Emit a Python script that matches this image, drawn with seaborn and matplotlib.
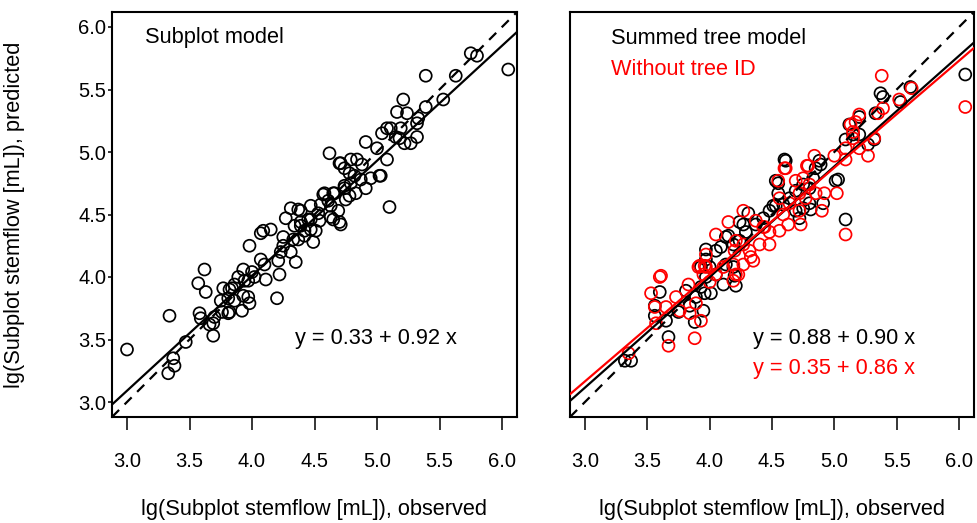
import matplotlib
matplotlib.use("Agg")
import matplotlib.pyplot as plt
import seaborn as sns
import pandas as pd

# ---------------- data ----------------
# Left panel: subplot model (observed, predicted)
sub_obs = [3.00, 3.34, 3.37, 3.38, 3.33, 3.47, 3.58, 3.59, 3.66, 3.69, 3.69, 3.57, 3.62, 3.63,
           3.75, 3.81, 3.76, 3.82, 3.92, 3.97, 3.98, 3.84, 3.77, 3.82, 3.86, 3.93, 3.81, 3.70,
           3.86, 3.89, 3.94, 4.02, 3.93, 4.00, 3.97, 4.11, 4.22, 4.20,
           3.98, 4.07, 4.09, 4.15,
           4.07, 4.10, 4.21, 4.23, 4.25, 4.25, 4.31, 4.33, 4.35,
           4.31, 4.27, 4.39, 4.39, 4.42, 4.49, 4.51, 4.47, 4.54, 4.63, 4.70, 4.57, 4.65, 4.74, 4.55, 4.61,
           4.34, 4.37, 4.45, 4.47, 4.53, 4.42, 4.37, 4.47, 4.39,
           4.58, 4.63, 4.69, 4.65, 4.71, 4.78, 4.83, 4.75, 4.66,
           4.71, 4.79, 4.84, 4.88, 4.74, 4.78, 4.82, 4.87, 4.95, 5.02, 4.91, 4.79, 4.74,
           4.62, 4.70, 4.91, 5.00, 5.10, 5.08, 5.03,
           5.04, 5.11, 5.15, 5.19, 5.22, 5.27, 5.32, 5.32, 5.33, 5.39, 5.16, 5.24, 5.21, 5.08, 5.18,
           5.39, 5.53, 5.63, 5.75, 5.80, 6.05]
sub_pred = [3.42, 3.69, 3.35, 3.29, 3.23, 3.48, 3.71, 3.67, 3.62, 3.63, 3.53, 3.95, 4.06, 3.88,
            3.81, 3.83, 3.72, 3.72, 3.73, 3.84, 3.79, 3.91, 3.91, 3.90, 3.81, 3.85, 3.71, 3.68,
            3.94, 4.00, 3.97, 4.00, 4.06, 4.04, 3.97, 3.98, 4.02, 3.83,
            4.25, 4.35, 4.37, 4.38,
            4.14, 4.10, 4.13, 4.20, 4.25, 4.32, 4.20, 4.30, 4.12,
            4.55, 4.47, 4.53, 4.41, 4.37, 4.28, 4.37, 4.46, 4.45, 4.48, 4.44, 4.66, 4.67, 4.71, 4.58, 4.61,
            4.41, 4.54, 4.46, 4.57, 4.51, 4.33, 4.30, 4.38, 4.44,
            4.67, 4.57, 4.53, 4.46, 4.42, 4.65, 4.67, 4.62, 4.67,
            4.91, 4.94, 4.94, 4.90, 4.87, 4.83, 4.81, 4.78, 4.79, 4.81, 4.71, 4.75, 4.73,
            4.99, 4.91, 5.08, 5.03, 4.56, 4.94, 4.81,
            5.15, 5.19, 5.12, 5.19, 5.07, 5.07, 5.12, 5.23, 5.27, 5.36, 5.32, 5.31, 5.42, 5.19, 5.11,
            5.61, 5.42, 5.61, 5.79, 5.77, 5.66]

# Right panel: summed tree model (black)
sum_obs = [6.05, 5.61, 5.53, 5.37, 5.39, 5.33, 5.20, 5.12, 5.15, 5.20, 5.09, 5.27, 5.32,
           5.03, 5.09, 4.91, 4.89, 4.61, 4.55, 4.55, 4.51, 4.31, 4.27, 4.29,
           4.13, 4.09, 4.05, 3.97, 3.97, 3.93, 3.97, 3.93, 3.96, 4.11, 4.21, 4.20,
           3.60, 3.56, 3.56, 3.65, 3.67, 3.32, 3.37, 3.75, 3.84, 3.88, 3.95, 3.89, 3.81,
           4.75, 4.80, 4.69, 4.83, 4.85, 4.88, 4.37, 4.43, 4.48, 4.69, 4.75, 4.80, 4.64, 4.59,
           4.19, 4.24, 4.13, 4.19, 4.05, 4.00,
           4.60, 5.01, 4.53, 4.53, 4.24, 4.15, 4.81, 4.72, 4.01]
sum_pred = [5.62, 5.52, 5.40, 5.47, 5.44, 5.31, 5.28, 5.22, 5.14, 5.14, 5.10, 5.06, 5.10,
            4.78, 4.46, 4.59, 4.90, 4.93, 4.75, 4.67, 4.57, 4.51, 4.42, 4.36,
            4.32, 4.24, 4.21, 4.22, 4.14, 4.08, 4.00, 3.92, 3.87, 3.94, 3.93, 4.01,
            3.88, 3.77, 3.69, 3.65, 3.52, 3.33, 3.33, 3.72, 3.77, 3.64, 3.73, 3.84, 3.89,
            4.55, 4.59, 4.53, 4.79, 4.87, 4.93, 4.42, 4.47, 4.53, 4.69, 4.74, 4.71, 4.63, 4.58,
            4.26, 4.29, 4.10, 4.08, 4.02, 4.08,
            4.94, 4.77, 4.77, 4.57, 4.44, 4.33, 4.54, 4.47, 3.87]

# Right panel: without tree ID (red)
noid_obs = [6.05, 5.38, 5.39, 5.35, 5.52, 5.62, 5.20, 5.17, 5.13, 5.15, 5.15, 5.32, 5.20, 5.27,
            5.09, 5.09, 5.00, 4.84, 5.09, 5.02, 4.92, 4.90, 4.60, 4.55, 4.56,
            4.78, 4.75, 4.69, 4.80, 4.85, 4.72, 4.64, 4.72, 4.63, 4.73, 4.59, 4.77,
            4.27, 4.15, 4.05, 3.97, 3.92, 3.97,
            4.37, 4.43, 4.48, 4.48, 4.40, 4.33, 4.35, 4.27, 4.21, 4.20, 4.19, 4.21, 4.27, 4.32,
            3.60, 3.61, 3.53, 3.56, 3.65, 3.73, 3.83, 3.91, 3.95, 4.00, 4.05, 4.11, 3.89, 3.93,
            3.88, 3.67, 3.35, 3.57, 3.76, 3.84,
            4.61, 4.79, 4.44, 4.56, 4.23, 4.19, 3.96]
noid_pred = [5.36, 5.61, 5.35, 5.31, 5.42, 5.51, 5.30, 5.24, 5.22, 5.16, 5.11, 5.11, 5.03, 4.97,
             5.03, 4.94, 4.97, 4.97, 4.34, 4.67, 4.67, 4.53, 4.87, 4.77, 4.63,
             4.89, 4.79, 4.77, 4.74, 4.67, 4.67, 4.59, 4.53, 4.42, 4.42, 4.50, 4.63,
             4.53, 4.44, 4.34, 4.18, 4.09, 4.08,
             4.45, 4.40, 4.36, 4.26, 4.26, 4.16, 4.13, 4.26, 4.29, 4.21, 4.10, 4.02, 4.10, 4.21,
             4.00, 4.01, 3.87, 3.76, 3.76, 3.84, 3.94, 4.08, 4.02, 3.96, 4.02, 4.08, 3.79, 3.65,
             3.51, 3.45, 3.39, 3.63, 3.73, 3.71,
             4.87, 4.89, 4.40, 4.37, 4.02, 3.97, 4.09]

# fitted lines (intercept, slope) as drawn in the reference
fit_sub = (0.33, 0.92)
fit_sum = (0.46, 0.885)
fit_noid = (0.60, 0.855)

x_ticks = [3.0, 3.5, 4.0, 4.5, 5.0, 5.5, 6.0]
y_ticks = [3.0, 3.5, 4.0, 4.5, 5.0, 5.5, 6.0]
tick_labels = ["3.0", "3.5", "4.0", "4.5", "5.0", "5.5", "6.0"]
lims = (2.88, 6.12)

# ---------------- figure ----------------
sns.set_theme(style="white")
plt.rcParams["font.family"] = ["Liberation Sans", "DejaVu Sans"]
plt.rcParams["text.color"] = "black"
plt.rcParams["xtick.color"] = "black"
plt.rcParams["ytick.color"] = "black"
plt.rcParams["xtick.labelcolor"] = "black"
plt.rcParams["ytick.labelcolor"] = "black"

W, H = 977, 523
fig = plt.figure(figsize=(W / 100, H / 100), dpi=100)
axL = fig.add_axes([112 / W, 1 - 417 / H, 405 / W, 405 / H])
axR = fig.add_axes([570 / W, 1 - 417 / H, 404 / W, 405 / H])

RED = "#FF0000"


def scatter(ax, x, y, color):
    df = pd.DataFrame({"x": x, "y": y})
    n0 = len(ax.collections)
    sns.scatterplot(data=df, x="x", y="y", ax=ax, s=74, marker="o", color=color,
                    linewidth=1.25, legend=False)
    coll = ax.collections[n0]
    coll.set_facecolor("none")
    coll.set_edgecolor(color)


scatter(axL, sub_obs, sub_pred, "black")
scatter(axR, sum_obs, sum_pred, "black")
scatter(axR, noid_obs, noid_pred, RED)

for ax in (axL, axR):
    ax.axline((3.0, 3.0), slope=1.0, color="black", lw=1.6, ls=(0, (4.5, 3.5)), zorder=3)
    ax.set_xlim(*lims)
    ax.set_ylim(*lims)
    ax.set_xlabel("")
    ax.set_ylabel("")
    for sp in ax.spines.values():
        sp.set_visible(True)
        sp.set_color("black")
        sp.set_linewidth(1.5)
    ax.set_xticks(x_ticks)
    ax.set_xticklabels(tick_labels)
    ax.tick_params(axis="x", direction="out", length=9, width=1.1, colors="black",
                   labelsize=14.5, pad=16, bottom=True)
    ax.grid(False)

axL.axline((0, fit_sub[0]), slope=fit_sub[1], color="black", lw=1.6, zorder=3)
axR.axline((0, fit_sum[0]), slope=fit_sum[1], color="black", lw=1.6, zorder=3)
axR.axline((0, fit_noid[0]), slope=fit_noid[1], color=RED, lw=1.6, zorder=3)

axL.set_yticks(y_ticks)
axL.set_yticklabels(tick_labels)
axL.tick_params(axis="y", direction="out", length=3, width=1.1, colors="black",
                labelsize=14.5, pad=1, left=True)
axR.set_yticks([])

fs = 15.7
axL.text(0.081, 0.936, "Subplot model", transform=axL.transAxes, fontsize=fs,
         ha="left", va="center", color="black")
axL.text(0.452, 0.195, "y = 0.33 + 0.92 x", transform=axL.transAxes, fontsize=fs,
         ha="left", va="center", color="black")
axR.text(0.101, 0.935, "Summed tree model", transform=axR.transAxes, fontsize=fs,
         ha="left", va="center", color="black")
axR.text(0.101, 0.857, "Without tree ID", transform=axR.transAxes, fontsize=fs,
         ha="left", va="center", color=RED)
axR.text(0.454, 0.194, "y = 0.88 + 0.90 x", transform=axR.transAxes, fontsize=fs,
         ha="left", va="center", color="black")
axR.text(0.454, 0.120, "y = 0.35 + 0.86 x", transform=axR.transAxes, fontsize=fs,
         ha="left", va="center", color=RED)

fig.text(15 / W, 1 - 215 / H, "lg(Subplot stemflow [mL]), predicted", rotation=90,
         ha="center", va="center", fontsize=fs, color="black")
fig.text(314 / W, 1 - 509 / H, "lg(Subplot stemflow [mL]), observed",
         ha="center", va="center", fontsize=fs, color="black")
fig.text(772 / W, 1 - 509 / H, "lg(Subplot stemflow [mL]), observed",
         ha="center", va="center", fontsize=fs, color="black")

fig.savefig("out.png", dpi=100, facecolor="white")
